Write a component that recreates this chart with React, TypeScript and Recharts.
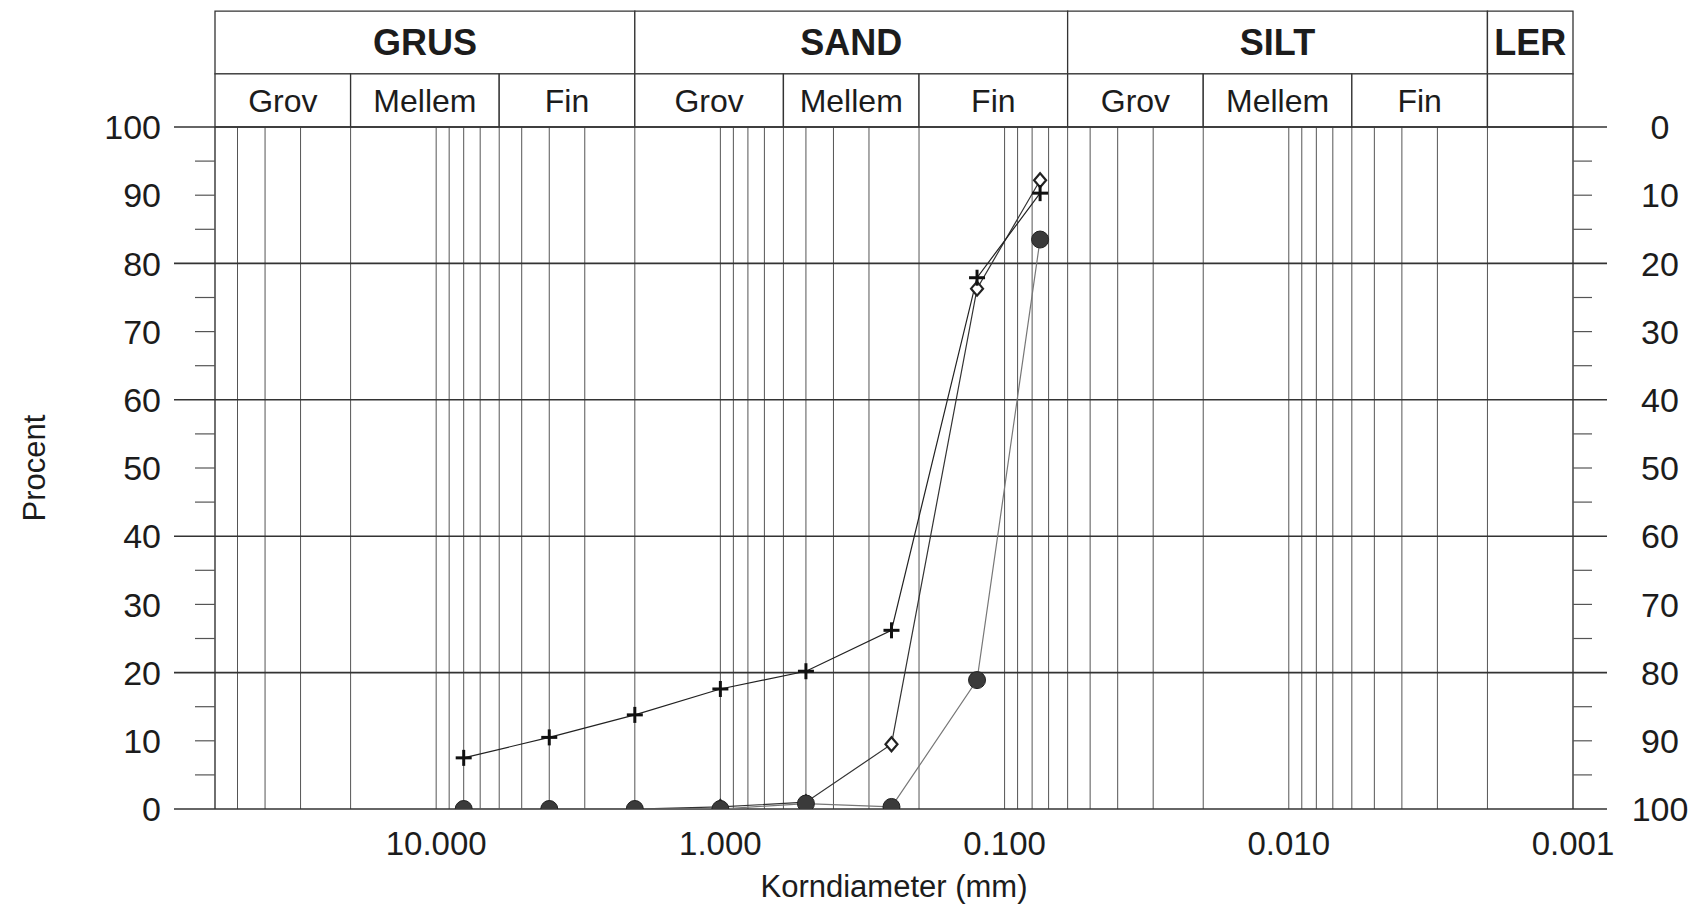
import React from 'react';
import { LineChart, Line, XAxis, YAxis, ReferenceLine, ReferenceArea } from 'recharts';

// sieve sizes (mm) and cumulative passing (%) for the three samples
const sieveMm = [8, 4, 2, 1, 0.5, 0.25, 0.125, 0.075];
const samplePlus = [7.5, 10.5, 13.8, 17.6, 20.2, 26.2, 77.9, 90.3];
const sampleDiamond = [0, 0, 0, 0.3, 1.0, 9.5, 76.3, 92.2];
const sampleCircle = [0, 0, 0, 0, 0.8, 0.3, 18.9, 83.5];

const xTickValues = [10, 1, 0.1, 0.01, 0.001];
const pctTicks = [0, 5, 10, 15, 20, 25, 30, 35, 40, 45, 50, 55, 60, 65, 70, 75, 80, 85, 90, 95, 100];
const majorPct = [0, 20, 40, 60, 80, 100];

// fraction classes (mm boundaries)
const mainNames = ['GRUS', 'SAND', 'SILT', 'LER'];
const mainBounds = [[60, 2], [2, 0.06], [0.06, 0.002], [0.002, 0.001]];
const subNames = ['Grov', 'Mellem', 'Fin', 'Grov', 'Mellem', 'Fin', 'Grov', 'Mellem', 'Fin', ''];
const subBounds = [
  [60, 20], [20, 6], [6, 2],
  [2, 0.6], [0.6, 0.2], [0.2, 0.06],
  [0.06, 0.02], [0.02, 0.006], [0.006, 0.002],
  [0.002, 0.001],
];

// log grid lines 1..9 x 10^k
const gridMm: number[] = [];
for (let k = -3; k <= 1; k++) {
  for (let n = 1; n <= 9; n++) {
    const v = +(n * Math.pow(10, k)).toPrecision(6);
    if (v > 0.001 && v < 60) gridMm.push(v);
  }
}

const data = sieveMm.map((d, i) => ({
  d,
  plus: samplePlus[i],
  diamond: sampleDiamond[i],
  circle: sampleCircle[i],
}));

const INK = '#1c1c1c';
const HEADER_MID = 107.8;
const HEADER_TOP = 117;

const renderLeftTick = (props: any) => {
  const { x, y, payload } = props;
  const v = payload.value;
  const major = v % 20 === 0;
  return (
    <g>
      <line x1={x - (major ? 41 : 20)} y1={y} x2={x} y2={y} stroke={major ? '#333' : '#555'} strokeWidth={major ? 1.6 : 1.2} />
      {v % 10 === 0 && (
        <text x={x - 54} y={y} dy="0.36em" textAnchor="end" fontSize={34} fill={INK}>{v}</text>
      )}
    </g>
  );
};

const renderRightTick = (props: any) => {
  const { x, y, payload } = props;
  const v = payload.value;
  const major = v % 20 === 0;
  return (
    <g>
      <line x1={x} y1={y} x2={x + (major ? 34 : 19)} y2={y} stroke={major ? '#333' : '#555'} strokeWidth={major ? 1.6 : 1.2} />
      {v % 10 === 0 && (
        <text x={x + 87} y={y} dy="0.36em" textAnchor="middle" fontSize={34} fill={INK}>{v}</text>
      )}
    </g>
  );
};

const renderPlus = (p: any) => (
  <g key={`plus-${p.index}`}>
    <line x1={p.cx - 8} y1={p.cy} x2={p.cx + 8} y2={p.cy} stroke="#111" strokeWidth={3} />
    <line x1={p.cx} y1={p.cy - 8} x2={p.cx} y2={p.cy + 8} stroke="#111" strokeWidth={3} />
  </g>
);

const renderDiamond = (p: any) => (
  <polygon
    key={`dia-${p.index}`}
    points={`${p.cx},${p.cy - 7} ${p.cx + 6},${p.cy} ${p.cx},${p.cy + 7} ${p.cx - 6},${p.cy}`}
    fill="#fff"
    stroke="#222"
    strokeWidth={2.2}
  />
);

const renderCircle = (p: any) => (
  <circle key={`cir-${p.index}`} cx={p.cx} cy={p.cy} r={8.5} fill="#3a3a3a" stroke="#222" strokeWidth={1} />
);

export default function App() {
  return (
    <div
      style={{
        position: 'absolute',
        left: 0,
        top: 0,
        width: 1701,
        height: 905,
        background: '#fff',
        fontFamily: '"Liberation Sans", Arial, sans-serif',
      }}
    >
      <LineChart width={1701} height={905} data={data} margin={{ top: 127, right: 0, bottom: 0, left: 0 }}>
        <XAxis
          dataKey="d"
          type="number"
          scale="log"
          domain={[0.001, 60]}
          reversed
          allowDataOverflow
          ticks={xTickValues}
          interval={0}
          tickFormatter={(v: number) => v.toFixed(3)}
          tickLine={false}
          axisLine={false}
          tickSize={0}
          tickMargin={23}
          height={96}
          tick={{ fontSize: 33, fill: INK }}
          label={{ value: 'Korndiameter (mm)', position: 'insideBottom', offset: 8, fontSize: 31, fill: INK }}
        />
        <YAxis
          type="number"
          domain={[0, 100]}
          allowDataOverflow
          ticks={pctTicks}
          interval={0}
          width={215}
          tickSize={0}
          tickMargin={0}
          tickLine={false}
          axisLine={{ stroke: '#333', strokeWidth: 1.4 }}
          tick={renderLeftTick}
          label={{ value: 'Procent', angle: -90, position: 'center', dx: -74, fontSize: 31, fill: INK }}
        />
        <YAxis
          yAxisId="right"
          orientation="right"
          type="number"
          domain={[0, 100]}
          allowDataOverflow
          reversed
          ticks={pctTicks}
          interval={0}
          width={128}
          tickSize={0}
          tickMargin={0}
          tickLine={false}
          axisLine={{ stroke: '#333', strokeWidth: 1.4 }}
          tick={renderRightTick}
        />

        {gridMm.map((v) => (
          <ReferenceLine key={`gx-${v}`} x={v} stroke="#555" strokeWidth={1} />
        ))}
        {majorPct.map((v) => (
          <ReferenceLine key={`gy-${v}`} y={v} stroke="#333" strokeWidth={1.6} />
        ))}

        {mainNames.map((name, i) => (
          <ReferenceArea
            key={`main-${name}`}
            x1={mainBounds[i][0]}
            x2={mainBounds[i][1]}
            y1={HEADER_MID}
            y2={HEADER_TOP}
            ifOverflow="visible"
            fill="#fff"
            fillOpacity={1}
            stroke="#333"
            strokeWidth={1.3}
            label={{ value: name, position: 'center', fontSize: 36, fontWeight: 'bold', fill: INK }}
          />
        ))}
        {subNames.map((name, i) => (
          <ReferenceArea
            key={`sub-${i}`}
            x1={subBounds[i][0]}
            x2={subBounds[i][1]}
            y1={100}
            y2={HEADER_MID}
            ifOverflow="visible"
            fill="#fff"
            fillOpacity={1}
            stroke="#333"
            strokeWidth={1.3}
            label={{ value: name, position: 'center', fontSize: 32, fill: INK }}
          />
        ))}

        <Line type="linear" dataKey="diamond" stroke="#333" strokeWidth={1.2} dot={renderDiamond} activeDot={false} isAnimationActive={false} />
        <Line type="linear" dataKey="circle" stroke="#777" strokeWidth={1.2} dot={renderCircle} activeDot={false} isAnimationActive={false} />
        <Line type="linear" dataKey="plus" stroke="#222" strokeWidth={1.2} dot={renderPlus} activeDot={false} isAnimationActive={false} />
      </LineChart>
    </div>
  );
}
